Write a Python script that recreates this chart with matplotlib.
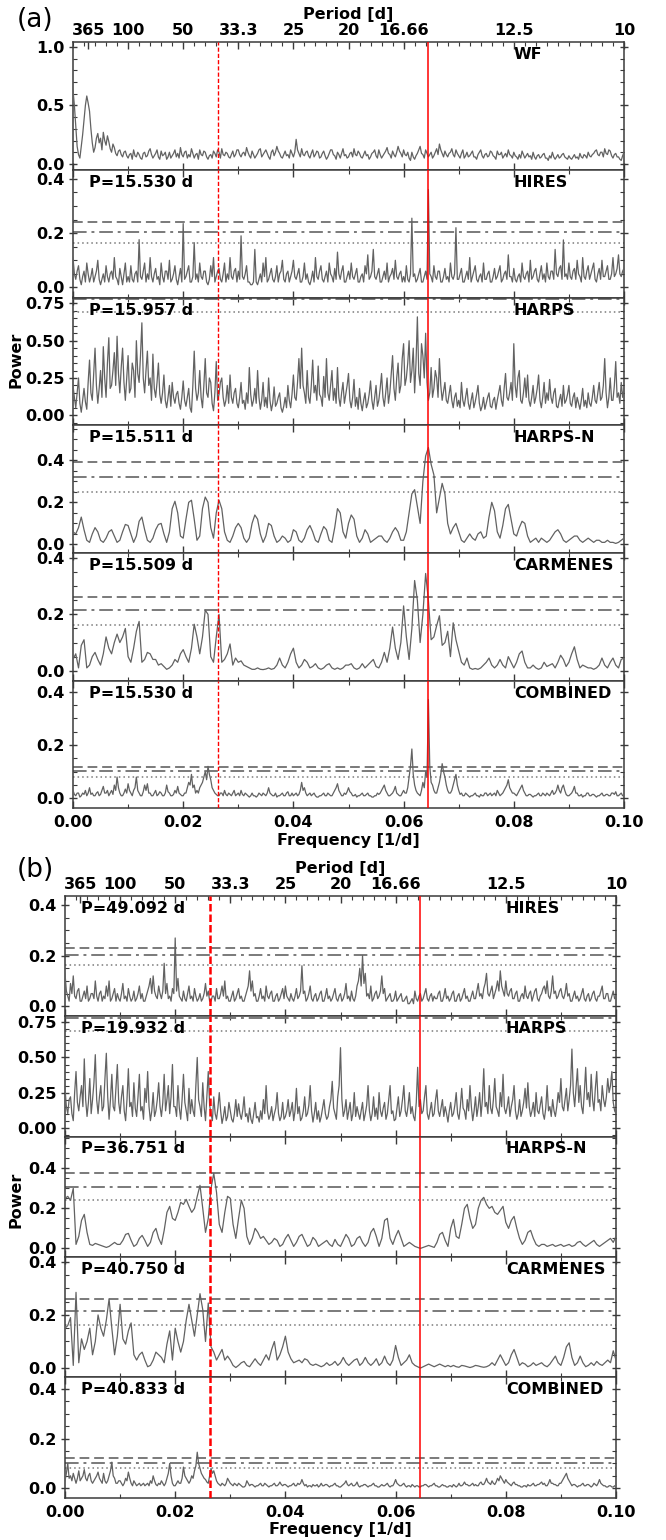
import numpy as np
import matplotlib
matplotlib.use("Agg")
import matplotlib.pyplot as plt
from matplotlib.ticker import MultipleLocator, AutoMinorLocator

plt.rcParams['font.family'] = ['DejaVu Sans']
plt.rcParams['font.weight'] = 'bold'

# ---------------------------------------------------------------- data
# Noisy periodograms: power every 0.00025 1/d from 0 to 0.1 1/d (401 values)
# Smooth periodograms: power every 0.0005 1/d from 0 to 0.1 1/d (201 values)

wf_a = [
    0.63, 0.50, 0.32, 0.15, 0.08, 0.05, 0.15, 0.25, 0.38, 0.50, 0.58, 0.52, 0.45, 0.30, 0.18, 0.10, 0.14, 0.22, 0.26, 0.18,
    0.22, 0.12, 0.27, 0.20, 0.16, 0.24, 0.19, 0.13, 0.10, 0.17, 0.14, 0.09, 0.07, 0.11, 0.12, 0.08, 0.06, 0.10, 0.11, 0.07,
    0.05, 0.08, 0.09, 0.04, 0.12, 0.07, 0.06, 0.10, 0.08, 0.05, 0.04, 0.09, 0.10, 0.06, 0.07, 0.11, 0.13, 0.08, 0.05, 0.07,
    0.09, 0.12, 0.06, 0.04, 0.11, 0.07, 0.08, 0.10, 0.04, 0.06, 0.10, 0.05, 0.07, 0.09, 0.12, 0.06, 0.09, 0.05, 0.14, 0.08,
    0.06, 0.10, 0.11, 0.05, 0.08, 0.06, 0.13, 0.09, 0.05, 0.08, 0.09, 0.04, 0.12, 0.08, 0.07, 0.11, 0.10, 0.06, 0.04, 0.07,
    0.08, 0.05, 0.11, 0.09, 0.06, 0.12, 0.10, 0.05, 0.13, 0.08, 0.07, 0.10, 0.09, 0.06, 0.05, 0.08, 0.11, 0.06, 0.08, 0.12,
    0.12, 0.08, 0.06, 0.09, 0.10, 0.07, 0.14, 0.10, 0.07, 0.05, 0.11, 0.08, 0.05, 0.07, 0.09, 0.12, 0.13, 0.06, 0.08, 0.10,
    0.12, 0.09, 0.06, 0.04, 0.10, 0.12, 0.07, 0.10, 0.15, 0.11, 0.09, 0.06, 0.05, 0.08, 0.11, 0.07, 0.08, 0.05, 0.12, 0.09,
    0.06, 0.10, 0.21, 0.12, 0.09, 0.06, 0.13, 0.08, 0.07, 0.10, 0.11, 0.07, 0.05, 0.09, 0.12, 0.06, 0.08, 0.11, 0.10, 0.05,
    0.06, 0.09, 0.11, 0.07, 0.04, 0.06, 0.09, 0.12, 0.12, 0.08, 0.07, 0.04, 0.10, 0.08, 0.05, 0.09, 0.13, 0.07, 0.08, 0.05,
    0.06, 0.09, 0.10, 0.06, 0.13, 0.08, 0.07, 0.11, 0.09, 0.06, 0.05, 0.08, 0.11, 0.07, 0.08, 0.04, 0.06, 0.09, 0.10, 0.12,
    0.07, 0.05, 0.12, 0.08, 0.05, 0.07, 0.09, 0.11, 0.14, 0.09, 0.08, 0.05, 0.11, 0.08, 0.06, 0.10, 0.15, 0.11, 0.09, 0.06,
    0.12, 0.08, 0.07, 0.10, 0.05, 0.03, 0.10, 0.06, 0.04, 0.07, 0.09, 0.12, 0.15, 0.09, 0.08, 0.05, 0.12, 0.09, 0.06, 0.08,
    0.10, 0.05, 0.07, 0.10, 0.13, 0.08, 0.17, 0.12, 0.09, 0.06, 0.11, 0.08, 0.06, 0.09, 0.10, 0.13, 0.08, 0.06, 0.12, 0.09,
    0.07, 0.05, 0.09, 0.12, 0.05, 0.07, 0.10, 0.06, 0.07, 0.09, 0.11, 0.06, 0.06, 0.04, 0.08, 0.10, 0.12, 0.07, 0.05, 0.08,
    0.09, 0.06, 0.07, 0.11, 0.10, 0.07, 0.06, 0.04, 0.11, 0.08, 0.08, 0.10, 0.05, 0.07, 0.09, 0.06, 0.12, 0.08, 0.07, 0.05,
    0.10, 0.07, 0.06, 0.04, 0.08, 0.05, 0.11, 0.08, 0.05, 0.07, 0.09, 0.06, 0.07, 0.04, 0.10, 0.06, 0.04, 0.07, 0.08, 0.05,
    0.06, 0.08, 0.09, 0.05, 0.05, 0.03, 0.07, 0.05, 0.10, 0.06, 0.04, 0.06, 0.08, 0.05, 0.06, 0.08, 0.09, 0.06, 0.05, 0.04,
    0.07, 0.05, 0.04, 0.06, 0.08, 0.05, 0.06, 0.04, 0.09, 0.06, 0.05, 0.08, 0.07, 0.05, 0.10, 0.07, 0.06, 0.08, 0.09, 0.11,
    0.12, 0.08, 0.07, 0.10, 0.10, 0.06, 0.13, 0.09, 0.08, 0.12, 0.11, 0.07, 0.05, 0.08, 0.09, 0.06, 0.06, 0.04, 0.03, 0.07,
    0.10,
]

hires_a = [
    0.11, 0.05, 0.03, 0.06, 0.08, 0.03, 0.01, 0.04, 0.06, 0.02, 0.09, 0.05, 0.02, 0.04, 0.07, 0.02, 0.04, 0.06, 0.10, 0.03,
    0.01, 0.03, 0.05, 0.02, 0.08, 0.04, 0.02, 0.05, 0.06, 0.03, 0.11, 0.04, 0.03, 0.01, 0.07, 0.04, 0.01, 0.05, 0.09, 0.02,
    0.04, 0.02, 0.08, 0.03, 0.02, 0.05, 0.06, 0.02, 0.176, 0.04, 0.03, 0.06, 0.09, 0.02, 0.05, 0.03, 0.11, 0.04, 0.02, 0.05,
    0.07, 0.03, 0.04, 0.01, 0.09, 0.04, 0.02, 0.06, 0.06, 0.03, 0.10, 0.02, 0.03, 0.05, 0.08, 0.03, 0.01, 0.04, 0.07, 0.02,
    0.235, 0.03, 0.04, 0.06, 0.08, 0.02, 0.02, 0.04, 0.165, 0.03, 0.05, 0.02, 0.09, 0.04, 0.03, 0.06, 0.06, 0.02, 0.01, 0.03,
    0.08, 0.04, 0.11, 0.02, 0.04, 0.06, 0.07, 0.03, 0.02, 0.05, 0.09, 0.02, 0.05, 0.03, 0.11, 0.04, 0.03, 0.06, 0.07, 0.02,
    0.06, 0.03, 0.19, 0.04, 0.03, 0.05, 0.08, 0.02, 0.02, 0.01, 0.01, 0.02, 0.14, 0.02, 0.01, 0.03, 0.05, 0.02, 0.09, 0.04,
    0.11, 0.02, 0.03, 0.05, 0.07, 0.03, 0.02, 0.04, 0.08, 0.02, 0.05, 0.06, 0.10, 0.03, 0.02, 0.05, 0.06, 0.02, 0.04, 0.06,
    0.10, 0.04, 0.03, 0.05, 0.07, 0.02, 0.02, 0.04, 0.09, 0.03, 0.05, 0.02, 0.01, 0.03, 0.06, 0.02, 0.11, 0.04, 0.03, 0.06,
    0.08, 0.03, 0.02, 0.04, 0.06, 0.02, 0.09, 0.05, 0.04, 0.02, 0.07, 0.03, 0.13, 0.05, 0.03, 0.06, 0.08, 0.02, 0.02, 0.04,
    0.06, 0.03, 0.09, 0.04, 0.03, 0.05, 0.07, 0.02, 0.02, 0.04, 0.05, 0.02, 0.08, 0.05, 0.12, 0.03, 0.04, 0.06, 0.14, 0.04,
    0.03, 0.05, 0.07, 0.02, 0.02, 0.04, 0.06, 0.03, 0.09, 0.02, 0.04, 0.05, 0.07, 0.03, 0.10, 0.04, 0.03, 0.05, 0.06, 0.02,
    0.04, 0.02, 0.08, 0.03, 0.02, 0.05, 0.255, 0.04, 0.05, 0.02, 0.03, 0.05, 0.07, 0.02, 0.02, 0.04, 0.06, 0.03, 0.36, 0.05,
    0.04, 0.02, 0.08, 0.04, 0.03, 0.06, 0.06, 0.02, 0.02, 0.04, 0.07, 0.03, 0.04, 0.02, 0.09, 0.04, 0.03, 0.05, 0.22, 0.03,
    0.03, 0.05, 0.07, 0.02, 0.02, 0.04, 0.06, 0.03, 0.11, 0.02, 0.04, 0.06, 0.08, 0.03, 0.02, 0.04, 0.05, 0.02, 0.09, 0.03,
    0.03, 0.05, 0.06, 0.02, 0.02, 0.04, 0.07, 0.03, 0.04, 0.06, 0.08, 0.02, 0.03, 0.05, 0.06, 0.03, 0.12, 0.04, 0.04, 0.02,
    0.07, 0.03, 0.02, 0.04, 0.05, 0.02, 0.09, 0.04, 0.03, 0.05, 0.06, 0.02, 0.10, 0.03, 0.04, 0.06, 0.07, 0.03, 0.02, 0.05,
    0.08, 0.03, 0.05, 0.02, 0.09, 0.04, 0.03, 0.06, 0.06, 0.03, 0.14, 0.05, 0.04, 0.07, 0.08, 0.03, 0.175, 0.04, 0.05, 0.03,
    0.09, 0.04, 0.03, 0.06, 0.07, 0.03, 0.10, 0.05, 0.04, 0.02, 0.11, 0.04, 0.03, 0.06, 0.08, 0.03, 0.05, 0.07, 0.09, 0.03,
    0.02, 0.05, 0.07, 0.03, 0.10, 0.04, 0.04, 0.06, 0.08, 0.03, 0.03, 0.05, 0.11, 0.04, 0.05, 0.07, 0.12, 0.05, 0.04, 0.06,
    0.07,
]

harps_a = [
    0.20, 0.12, 0.05, 0.15, 0.25, 0.08, 0.02, 0.10, 0.18, 0.09, 0.04, 0.22, 0.37, 0.15, 0.10, 0.28, 0.45, 0.20, 0.08, 0.18,
    0.30, 0.12, 0.46, 0.25, 0.12, 0.35, 0.52, 0.18, 0.20, 0.30, 0.42, 0.20, 0.53, 0.28, 0.15, 0.32, 0.45, 0.22, 0.10, 0.25,
    0.40, 0.15, 0.18, 0.35, 0.30, 0.12, 0.50, 0.28, 0.22, 0.40, 0.62, 0.25, 0.15, 0.30, 0.43, 0.20, 0.25, 0.10, 0.41, 0.18,
    0.12, 0.22, 0.35, 0.14, 0.08, 0.15, 0.27, 0.10, 0.05, 0.12, 0.20, 0.06, 0.22, 0.12, 0.08, 0.14, 0.16, 0.08, 0.04, 0.12,
    0.23, 0.10, 0.06, 0.12, 0.18, 0.05, 0.02, 0.20, 0.43, 0.18, 0.10, 0.15, 0.30, 0.12, 0.05, 0.20, 0.38, 0.15, 0.12, 0.25,
    0.22, 0.08, 0.03, 0.15, 0.36, 0.10, 0.14, 0.22, 0.25, 0.12, 0.06, 0.10, 0.20, 0.08, 0.27, 0.12, 0.08, 0.15, 0.18, 0.08,
    0.05, 0.12, 0.22, 0.08, 0.10, 0.04, 0.15, 0.08, 0.32, 0.14, 0.06, 0.10, 0.18, 0.08, 0.30, 0.12, 0.04, 0.10, 0.22, 0.06,
    0.12, 0.05, 0.25, 0.10, 0.03, 0.08, 0.19, 0.06, 0.08, 0.12, 0.15, 0.05, 0.02, 0.06, 0.12, 0.05, 0.20, 0.10, 0.05, 0.14,
    0.27, 0.12, 0.10, 0.22, 0.38, 0.18, 0.45, 0.20, 0.15, 0.08, 0.30, 0.12, 0.08, 0.20, 0.37, 0.15, 0.20, 0.10, 0.33, 0.14,
    0.12, 0.06, 0.26, 0.12, 0.38, 0.15, 0.10, 0.20, 0.30, 0.10, 0.18, 0.08, 0.32, 0.12, 0.06, 0.15, 0.22, 0.08, 0.14, 0.20,
    0.28, 0.10, 0.05, 0.12, 0.24, 0.06, 0.12, 0.04, 0.18, 0.08, 0.03, 0.10, 0.15, 0.05, 0.08, 0.14, 0.23, 0.10, 0.04, 0.12,
    0.20, 0.06, 0.10, 0.18, 0.28, 0.12, 0.06, 0.15, 0.25, 0.08, 0.15, 0.28, 0.40, 0.18, 0.10, 0.25, 0.35, 0.15, 0.20, 0.38,
    0.48, 0.20, 0.25, 0.35, 0.50, 0.22, 0.30, 0.45, 0.15, 0.35, 0.66, 0.28, 0.20, 0.48, 0.40, 0.25, 0.55, 0.22, 0.10, 0.15,
    0.32, 0.12, 0.18, 0.30, 0.25, 0.12, 0.38, 0.20, 0.10, 0.16, 0.22, 0.10, 0.08, 0.14, 0.20, 0.10, 0.05, 0.12, 0.15, 0.06,
    0.10, 0.05, 0.22, 0.10, 0.06, 0.12, 0.18, 0.08, 0.04, 0.10, 0.15, 0.05, 0.09, 0.14, 0.20, 0.08, 0.03, 0.06, 0.12, 0.04,
    0.08, 0.12, 0.15, 0.06, 0.05, 0.10, 0.12, 0.04, 0.10, 0.15, 0.20, 0.10, 0.06, 0.18, 0.28, 0.12, 0.10, 0.15, 0.22, 0.10,
    0.48, 0.20, 0.12, 0.25, 0.30, 0.10, 0.08, 0.15, 0.25, 0.12, 0.27, 0.10, 0.06, 0.12, 0.20, 0.08, 0.12, 0.18, 0.27, 0.10,
    0.05, 0.12, 0.22, 0.08, 0.15, 0.10, 0.24, 0.12, 0.08, 0.15, 0.18, 0.06, 0.05, 0.10, 0.14, 0.06, 0.20, 0.08, 0.10, 0.14,
    0.20, 0.08, 0.06, 0.12, 0.15, 0.05, 0.12, 0.08, 0.04, 0.10, 0.18, 0.06, 0.10, 0.05, 0.15, 0.08, 0.06, 0.12, 0.20, 0.10,
    0.08, 0.15, 0.22, 0.10, 0.12, 0.20, 0.38, 0.15, 0.05, 0.12, 0.25, 0.10, 0.10, 0.20, 0.36, 0.12, 0.15, 0.08, 0.22, 0.12,
    0.18,
]

harpsn_a = [
    0.06, 0.05, 0.08, 0.13, 0.07, 0.02, 0.01, 0.05, 0.08, 0.06, 0.02, 0.01, 0.03, 0.06, 0.07, 0.04, 0.01, 0.02, 0.06, 0.095,
    0.09, 0.05, 0.01, 0.04, 0.11, 0.13, 0.07, 0.02, 0.01, 0.03, 0.07, 0.095, 0.10, 0.05, 0.01, 0.06, 0.17, 0.205, 0.15, 0.04,
    0.03, 0.12, 0.20, 0.21, 0.12, 0.02, 0.04, 0.17, 0.225, 0.20, 0.08, 0.03, 0.15, 0.21, 0.17, 0.06, 0.02, 0.01, 0.04, 0.08,
    0.10, 0.08, 0.03, 0.01, 0.03, 0.10, 0.14, 0.12, 0.05, 0.01, 0.04, 0.10, 0.09, 0.04, 0.01, 0.02, 0.04, 0.03, 0.01, 0.02,
    0.07, 0.06, 0.02, 0.01, 0.03, 0.07, 0.09, 0.06, 0.02, 0.01, 0.05, 0.085, 0.07, 0.02, 0.01, 0.08, 0.17, 0.15, 0.06, 0.03,
    0.10, 0.14, 0.12, 0.04, 0.01, 0.03, 0.07, 0.05, 0.01, 0.02, 0.03, 0.04, 0.04, 0.02, 0.01, 0.03, 0.06, 0.08, 0.06, 0.02,
    0.02, 0.06, 0.15, 0.24, 0.26, 0.18, 0.10, 0.30, 0.42, 0.46, 0.38, 0.33, 0.15, 0.22, 0.29, 0.24, 0.10, 0.05, 0.08, 0.10,
    0.06, 0.02, 0.01, 0.03, 0.05, 0.03, 0.02, 0.05, 0.06, 0.03, 0.04, 0.13, 0.20, 0.16, 0.06, 0.03, 0.09, 0.17, 0.19, 0.12,
    0.05, 0.04, 0.08, 0.11, 0.10, 0.04, 0.01, 0.02, 0.03, 0.01, 0.03, 0.02, 0.01, 0.02, 0.04, 0.06, 0.07, 0.05, 0.02, 0.01,
    0.02, 0.03, 0.04, 0.04, 0.02, 0.01, 0.02, 0.03, 0.02, 0.01, 0.02, 0.02, 0.01, 0.01, 0.02, 0.01, 0.01, 0.005, 0.01, 0.02,
    0.03,
]

carmenes_a = [
    0.04, 0.06, 0.01, 0.09, 0.11, 0.01, 0.02, 0.05, 0.065, 0.04, 0.02, 0.06, 0.12, 0.08, 0.06, 0.10, 0.13, 0.10, 0.12, 0.15,
    0.05, 0.03, 0.08, 0.14, 0.175, 0.03, 0.04, 0.065, 0.06, 0.04, 0.04, 0.02, 0.025, 0.015, 0.005, 0.01, 0.02, 0.04, 0.03, 0.06,
    0.075, 0.05, 0.03, 0.08, 0.165, 0.12, 0.06, 0.12, 0.215, 0.20, 0.05, 0.03, 0.12, 0.20, 0.03, 0.04, 0.06, 0.095, 0.02, 0.045,
    0.03, 0.035, 0.02, 0.015, 0.01, 0.005, 0.005, 0.01, 0.005, 0.004, 0.006, 0.01, 0.005, 0.008, 0.02, 0.045, 0.02, 0.01, 0.03, 0.06,
    0.08, 0.03, 0.01, 0.02, 0.04, 0.03, 0.01, 0.015, 0.025, 0.01, 0.005, 0.01, 0.02, 0.025, 0.01, 0.005, 0.01, 0.005, 0.01, 0.02,
    0.02, 0.025, 0.01, 0.005, 0.01, 0.025, 0.01, 0.02, 0.03, 0.04, 0.015, 0.01, 0.03, 0.065, 0.03, 0.08, 0.155, 0.08, 0.04, 0.10,
    0.23, 0.12, 0.04, 0.15, 0.32, 0.25, 0.10, 0.20, 0.345, 0.25, 0.11, 0.12, 0.16, 0.195, 0.09, 0.10, 0.14, 0.05, 0.17, 0.11,
    0.07, 0.03, 0.02, 0.045, 0.01, 0.005, 0.008, 0.005, 0.01, 0.02, 0.03, 0.045, 0.02, 0.01, 0.02, 0.04, 0.02, 0.01, 0.05, 0.03,
    0.01, 0.03, 0.06, 0.07, 0.03, 0.01, 0.01, 0.02, 0.01, 0.005, 0.01, 0.03, 0.015, 0.02, 0.025, 0.01, 0.03, 0.055, 0.04, 0.015,
    0.03, 0.06, 0.085, 0.04, 0.01, 0.02, 0.015, 0.01, 0.01, 0.005, 0.01, 0.02, 0.045, 0.02, 0.01, 0.03, 0.045, 0.02, 0.01, 0.04,
    0.045,
]

combined_a = [
    0.03, 0.015, 0.01, 0.02, 0.02, 0.005, 0.01, 0.02, 0.015, 0.03, 0.01, 0.02, 0.04, 0.015, 0.02, 0.01, 0.01, 0.02, 0.025, 0.01,
    0.015, 0.03, 0.045, 0.02, 0.02, 0.03, 0.01, 0.02, 0.03, 0.015, 0.05, 0.03, 0.08, 0.04, 0.02, 0.01, 0.01, 0.02, 0.035, 0.02,
    0.055, 0.03, 0.02, 0.01, 0.03, 0.04, 0.08, 0.03, 0.02, 0.01, 0.01, 0.025, 0.05, 0.03, 0.055, 0.02, 0.02, 0.01, 0.01, 0.02,
    0.03, 0.01, 0.015, 0.025, 0.02, 0.01, 0.01, 0.02, 0.05, 0.025, 0.02, 0.01, 0.01, 0.015, 0.03, 0.02, 0.045, 0.02, 0.015, 0.01,
    0.01, 0.02, 0.02, 0.04, 0.06, 0.05, 0.09, 0.04, 0.05, 0.02, 0.03, 0.02, 0.04, 0.05, 0.06, 0.08, 0.10, 0.07, 0.12, 0.09,
    0.07, 0.04, 0.03, 0.02, 0.015, 0.01, 0.01, 0.02, 0.02, 0.01, 0.03, 0.015, 0.01, 0.02, 0.015, 0.01, 0.02, 0.03, 0.01, 0.015,
    0.02, 0.01, 0.03, 0.015, 0.01, 0.02, 0.015, 0.01, 0.005, 0.01, 0.02, 0.01, 0.01, 0.005, 0.01, 0.02, 0.015, 0.01, 0.02, 0.015,
    0.01, 0.02, 0.04, 0.02, 0.015, 0.01, 0.01, 0.02, 0.005, 0.01, 0.01, 0.015, 0.02, 0.01, 0.01, 0.02, 0.025, 0.01, 0.01, 0.02,
    0.01, 0.015, 0.02, 0.01, 0.015, 0.03, 0.06, 0.03, 0.04, 0.02, 0.01, 0.015, 0.02, 0.01, 0.015, 0.02, 0.01, 0.005, 0.005, 0.01,
    0.01, 0.015, 0.02, 0.01, 0.01, 0.02, 0.015, 0.01, 0.01, 0.02, 0.03, 0.04, 0.055, 0.03, 0.02, 0.01, 0.01, 0.02, 0.015, 0.025,
    0.04, 0.025, 0.02, 0.01, 0.01, 0.015, 0.005, 0.01, 0.01, 0.015, 0.02, 0.01, 0.01, 0.015, 0.02, 0.01, 0.01, 0.005, 0.005, 0.01,
    0.01, 0.02, 0.015, 0.02, 0.03, 0.04, 0.05, 0.03, 0.02, 0.01, 0.01, 0.015, 0.02, 0.03, 0.045, 0.02, 0.015, 0.01, 0.01, 0.02,
    0.03, 0.02, 0.02, 0.04, 0.08, 0.12, 0.185, 0.09, 0.05, 0.03, 0.02, 0.015, 0.01, 0.03, 0.06, 0.04, 0.10, 0.08, 0.37, 0.12,
    0.06, 0.05, 0.03, 0.02, 0.02, 0.04, 0.06, 0.09, 0.13, 0.10, 0.08, 0.05, 0.03, 0.02, 0.02, 0.03, 0.05, 0.07, 0.09, 0.05,
    0.03, 0.015, 0.02, 0.01, 0.01, 0.02, 0.015, 0.01, 0.005, 0.01, 0.01, 0.015, 0.02, 0.01, 0.01, 0.005, 0.015, 0.01, 0.01, 0.02,
    0.02, 0.01, 0.015, 0.02, 0.01, 0.015, 0.02, 0.01, 0.03, 0.02, 0.01, 0.015, 0.02, 0.03, 0.04, 0.05, 0.07, 0.04, 0.03, 0.02,
    0.02, 0.015, 0.01, 0.02, 0.03, 0.04, 0.05, 0.03, 0.02, 0.01, 0.01, 0.015, 0.015, 0.01, 0.005, 0.01, 0.01, 0.015, 0.02, 0.01,
    0.01, 0.02, 0.015, 0.01, 0.02, 0.015, 0.01, 0.02, 0.03, 0.015, 0.02, 0.03, 0.05, 0.03, 0.02, 0.04, 0.05, 0.03, 0.015, 0.01,
    0.01, 0.015, 0.02, 0.03, 0.045, 0.02, 0.02, 0.01, 0.01, 0.015, 0.005, 0.01, 0.01, 0.02, 0.02, 0.01, 0.01, 0.015, 0.015, 0.01,
    0.005, 0.01, 0.01, 0.015, 0.02, 0.01, 0.01, 0.015, 0.015, 0.01, 0.01, 0.02, 0.02, 0.015, 0.025, 0.01, 0.01, 0.015, 0.02, 0.01,
    0.01,
]

hires_b = [
    0.13, 0.06, 0.04, 0.02, 0.09, 0.05, 0.12, 0.04, 0.03, 0.06, 0.07, 0.02, 0.02, 0.04, 0.06, 0.03, 0.08, 0.02, 0.03, 0.05,
    0.05, 0.03, 0.10, 0.04, 0.02, 0.05, 0.06, 0.02, 0.04, 0.03, 0.08, 0.04, 0.10, 0.02, 0.03, 0.05, 0.07, 0.02, 0.05, 0.03,
    0.02, 0.05, 0.09, 0.03, 0.04, 0.02, 0.07, 0.04, 0.02, 0.03, 0.06, 0.02, 0.03, 0.05, 0.08, 0.03, 0.05, 0.02, 0.02, 0.04,
    0.06, 0.08, 0.11, 0.05, 0.12, 0.06, 0.04, 0.03, 0.08, 0.05, 0.03, 0.06, 0.17, 0.05, 0.09, 0.03, 0.04, 0.02, 0.07, 0.05,
    0.27, 0.06, 0.11, 0.04, 0.03, 0.02, 0.06, 0.03, 0.02, 0.05, 0.08, 0.03, 0.04, 0.02, 0.07, 0.04, 0.02, 0.03, 0.05, 0.02,
    0.03, 0.05, 0.09, 0.04, 0.06, 0.02, 0.02, 0.04, 0.04, 0.02, 0.07, 0.03, 0.03, 0.05, 0.08, 0.04, 0.10, 0.03, 0.04, 0.02,
    0.02, 0.04, 0.06, 0.02, 0.03, 0.05, 0.07, 0.03, 0.04, 0.02, 0.02, 0.04, 0.06, 0.08, 0.14, 0.06, 0.10, 0.04, 0.05, 0.02,
    0.02, 0.04, 0.07, 0.03, 0.04, 0.02, 0.08, 0.04, 0.03, 0.05, 0.06, 0.02, 0.02, 0.04, 0.05, 0.02, 0.03, 0.05, 0.07, 0.03,
    0.08, 0.04, 0.03, 0.02, 0.05, 0.03, 0.02, 0.04, 0.07, 0.03, 0.04, 0.06, 0.16, 0.05, 0.06, 0.02, 0.03, 0.05, 0.08, 0.03,
    0.02, 0.04, 0.05, 0.02, 0.03, 0.05, 0.06, 0.02, 0.02, 0.04, 0.07, 0.03, 0.04, 0.02, 0.03, 0.05, 0.07, 0.03, 0.02, 0.04,
    0.05, 0.02, 0.03, 0.05, 0.09, 0.03, 0.04, 0.02, 0.06, 0.03, 0.02, 0.04, 0.08, 0.10, 0.15, 0.08, 0.20, 0.09, 0.13, 0.04,
    0.05, 0.03, 0.08, 0.02, 0.03, 0.05, 0.06, 0.03, 0.04, 0.06, 0.12, 0.05, 0.07, 0.02, 0.03, 0.04, 0.05, 0.02, 0.02, 0.03,
    0.06, 0.02, 0.03, 0.04, 0.05, 0.02, 0.02, 0.03, 0.04, 0.01, 0.01, 0.02, 0.03, 0.01, 0.06, 0.03, 0.02, 0.04, 0.05, 0.02,
    0.03, 0.05, 0.07, 0.03, 0.02, 0.04, 0.05, 0.02, 0.04, 0.03, 0.03, 0.05, 0.06, 0.02, 0.02, 0.04, 0.07, 0.03, 0.04, 0.02,
    0.03, 0.05, 0.06, 0.02, 0.02, 0.04, 0.05, 0.02, 0.03, 0.05, 0.07, 0.03, 0.04, 0.02, 0.02, 0.04, 0.06, 0.03, 0.03, 0.06,
    0.09, 0.04, 0.05, 0.03, 0.07, 0.09, 0.13, 0.05, 0.04, 0.06, 0.08, 0.03, 0.05, 0.07, 0.10, 0.06, 0.14, 0.08, 0.06, 0.04,
    0.10, 0.05, 0.04, 0.06, 0.07, 0.03, 0.03, 0.05, 0.06, 0.02, 0.02, 0.04, 0.05, 0.03, 0.08, 0.04, 0.03, 0.05, 0.06, 0.02,
    0.04, 0.06, 0.07, 0.03, 0.02, 0.04, 0.05, 0.07, 0.08, 0.05, 0.10, 0.04, 0.03, 0.06, 0.12, 0.05, 0.06, 0.03, 0.04, 0.06,
    0.07, 0.04, 0.03, 0.05, 0.09, 0.04, 0.05, 0.02, 0.02, 0.04, 0.06, 0.03, 0.04, 0.02, 0.03, 0.05, 0.07, 0.03, 0.02, 0.04,
    0.05, 0.02, 0.03, 0.05, 0.06, 0.03, 0.02, 0.04, 0.04, 0.06, 0.08, 0.03, 0.03, 0.05, 0.05, 0.02, 0.02, 0.04, 0.06, 0.03,
    0.03,
]

harps_b = [
    0.28, 0.15, 0.10, 0.20, 0.22, 0.10, 0.05, 0.25, 0.40, 0.18, 0.12, 0.22, 0.30, 0.15, 0.49, 0.20, 0.08, 0.18, 0.35, 0.10,
    0.20, 0.32, 0.52, 0.20, 0.10, 0.22, 0.30, 0.12, 0.15, 0.35, 0.53, 0.22, 0.06, 0.20, 0.38, 0.15, 0.12, 0.28, 0.45, 0.18,
    0.10, 0.22, 0.30, 0.12, 0.05, 0.20, 0.42, 0.15, 0.18, 0.08, 0.32, 0.14, 0.08, 0.22, 0.38, 0.12, 0.15, 0.06, 0.28, 0.18,
    0.40, 0.15, 0.05, 0.12, 0.25, 0.08, 0.12, 0.20, 0.32, 0.15, 0.08, 0.18, 0.38, 0.12, 0.20, 0.30, 0.10, 0.22, 0.45, 0.15,
    0.15, 0.08, 0.30, 0.14, 0.06, 0.20, 0.38, 0.18, 0.12, 0.05, 0.28, 0.10, 0.20, 0.12, 0.08, 0.30, 0.50, 0.20, 0.15, 0.08,
    0.32, 0.15, 0.05, 0.22, 0.40, 0.16, 0.10, 0.05, 0.22, 0.10, 0.06, 0.14, 0.25, 0.12, 0.03, 0.08, 0.15, 0.05, 0.08, 0.18,
    0.12, 0.06, 0.04, 0.10, 0.20, 0.08, 0.17, 0.10, 0.06, 0.12, 0.22, 0.08, 0.10, 0.04, 0.14, 0.06, 0.03, 0.10, 0.18, 0.07,
    0.08, 0.04, 0.12, 0.06, 0.20, 0.10, 0.30, 0.12, 0.06, 0.09, 0.15, 0.05, 0.10, 0.14, 0.25, 0.10, 0.05, 0.08, 0.18, 0.06,
    0.08, 0.12, 0.20, 0.08, 0.12, 0.18, 0.05, 0.12, 0.28, 0.10, 0.15, 0.05, 0.07, 0.12, 0.22, 0.08, 0.10, 0.16, 0.30, 0.12,
    0.04, 0.10, 0.18, 0.06, 0.12, 0.04, 0.08, 0.14, 0.20, 0.10, 0.06, 0.08, 0.15, 0.20, 0.33, 0.14, 0.10, 0.06, 0.22, 0.30,
    0.57, 0.20, 0.08, 0.12, 0.20, 0.06, 0.12, 0.18, 0.05, 0.10, 0.25, 0.08, 0.15, 0.10, 0.06, 0.12, 0.18, 0.05, 0.10, 0.16,
    0.30, 0.12, 0.05, 0.10, 0.22, 0.08, 0.14, 0.06, 0.25, 0.12, 0.08, 0.14, 0.18, 0.06, 0.10, 0.20, 0.30, 0.10, 0.12, 0.05,
    0.06, 0.14, 0.22, 0.08, 0.12, 0.20, 0.30, 0.12, 0.08, 0.15, 0.25, 0.10, 0.15, 0.08, 0.05, 0.18, 0.43, 0.15, 0.20, 0.10,
    0.12, 0.22, 0.30, 0.10, 0.06, 0.12, 0.18, 0.08, 0.10, 0.20, 0.27, 0.12, 0.08, 0.14, 0.20, 0.08, 0.15, 0.10, 0.04, 0.12,
    0.18, 0.08, 0.10, 0.16, 0.25, 0.10, 0.06, 0.15, 0.28, 0.14, 0.12, 0.06, 0.20, 0.12, 0.30, 0.15, 0.05, 0.12, 0.22, 0.08,
    0.15, 0.25, 0.08, 0.20, 0.42, 0.15, 0.18, 0.10, 0.30, 0.14, 0.10, 0.20, 0.35, 0.15, 0.12, 0.08, 0.25, 0.15, 0.38, 0.14,
    0.10, 0.15, 0.22, 0.08, 0.15, 0.20, 0.30, 0.12, 0.06, 0.10, 0.20, 0.08, 0.12, 0.18, 0.28, 0.14, 0.32, 0.15, 0.08, 0.12,
    0.18, 0.08, 0.25, 0.12, 0.10, 0.16, 0.22, 0.10, 0.06, 0.14, 0.30, 0.12, 0.15, 0.08, 0.20, 0.12, 0.08, 0.15, 0.25, 0.18,
    0.35, 0.15, 0.12, 0.20, 0.28, 0.12, 0.20, 0.30, 0.56, 0.25, 0.15, 0.28, 0.42, 0.18, 0.30, 0.15, 0.10, 0.25, 0.43, 0.20,
    0.25, 0.15, 0.38, 0.20, 0.12, 0.28, 0.40, 0.18, 0.20, 0.12, 0.30, 0.20, 0.15, 0.22, 0.35, 0.25, 0.30, 0.40, 0.18, 0.12,
    0.10,
]

harpsn_b = [
    0.25, 0.26, 0.24, 0.30, 0.02, 0.06, 0.14, 0.17, 0.08, 0.02, 0.015, 0.025, 0.02, 0.015, 0.01, 0.005, 0.01, 0.02, 0.03, 0.02,
    0.02, 0.04, 0.07, 0.075, 0.04, 0.01, 0.02, 0.05, 0.065, 0.04, 0.01, 0.03, 0.08, 0.10, 0.05, 0.02, 0.09, 0.18, 0.21, 0.15,
    0.14, 0.18, 0.23, 0.22, 0.245, 0.21, 0.18, 0.20, 0.26, 0.315, 0.20, 0.08, 0.15, 0.30, 0.375, 0.28, 0.12, 0.08, 0.18, 0.26,
    0.25, 0.12, 0.05, 0.15, 0.24, 0.20, 0.06, 0.02, 0.05, 0.10, 0.08, 0.05, 0.06, 0.04, 0.02, 0.03, 0.05, 0.04, 0.01, 0.02,
    0.05, 0.07, 0.04, 0.01, 0.03, 0.06, 0.07, 0.04, 0.01, 0.02, 0.055, 0.04, 0.01, 0.02, 0.03, 0.04, 0.02, 0.01, 0.045, 0.02,
    0.01, 0.04, 0.07, 0.05, 0.01, 0.02, 0.05, 0.06, 0.03, 0.01, 0.03, 0.08, 0.10, 0.06, 0.01, 0.05, 0.14, 0.15, 0.05, 0.02,
    0.06, 0.09, 0.05, 0.01, 0.02, 0.03, 0.02, 0.01, 0.005, 0.0, 0.005, 0.01, 0.015, 0.01, 0.005, 0.03, 0.07, 0.08, 0.04, 0.01,
    0.10, 0.145, 0.06, 0.05, 0.12, 0.20, 0.22, 0.15, 0.10, 0.12, 0.20, 0.24, 0.255, 0.22, 0.20, 0.21, 0.18, 0.17, 0.19, 0.21,
    0.13, 0.10, 0.14, 0.16, 0.10, 0.05, 0.02, 0.04, 0.08, 0.09, 0.05, 0.02, 0.01, 0.02, 0.02, 0.01, 0.015, 0.02, 0.01, 0.015,
    0.02, 0.01, 0.015, 0.02, 0.01, 0.015, 0.03, 0.035, 0.02, 0.01, 0.02, 0.03, 0.04, 0.02, 0.01, 0.02, 0.03, 0.04, 0.05, 0.03,
    0.06,
]

carmenes_b = [
    0.15, 0.16, 0.19, 0.01, 0.285, 0.02, 0.11, 0.07, 0.10, 0.15, 0.05, 0.10, 0.20, 0.15, 0.12, 0.18, 0.26, 0.15, 0.05, 0.12,
    0.24, 0.11, 0.09, 0.14, 0.17, 0.05, 0.03, 0.05, 0.06, 0.03, 0.005, 0.01, 0.03, 0.06, 0.05, 0.04, 0.02, 0.09, 0.14, 0.03,
    0.15, 0.10, 0.06, 0.10, 0.18, 0.24, 0.18, 0.12, 0.20, 0.28, 0.22, 0.10, 0.245, 0.08, 0.06, 0.03, 0.05, 0.07, 0.03, 0.045,
    0.03, 0.01, 0.002, 0.01, 0.02, 0.025, 0.01, 0.005, 0.02, 0.035, 0.02, 0.01, 0.03, 0.05, 0.03, 0.07, 0.10, 0.03, 0.05, 0.08,
    0.12, 0.06, 0.035, 0.02, 0.025, 0.03, 0.02, 0.035, 0.03, 0.015, 0.01, 0.015, 0.01, 0.005, 0.01, 0.02, 0.01, 0.015, 0.025, 0.01,
    0.02, 0.04, 0.02, 0.01, 0.02, 0.03, 0.035, 0.01, 0.02, 0.04, 0.02, 0.01, 0.02, 0.035, 0.01, 0.02, 0.045, 0.02, 0.01, 0.03,
    0.085, 0.04, 0.01, 0.02, 0.03, 0.05, 0.02, 0.01, 0.005, 0.0, 0.005, 0.01, 0.015, 0.01, 0.005, 0.01, 0.015, 0.01, 0.005, 0.01,
    0.005, 0.01, 0.005, 0.003, 0.01, 0.008, 0.005, 0.002, 0.005, 0.01, 0.008, 0.005, 0.003, 0.005, 0.01, 0.02, 0.01, 0.03, 0.05, 0.03,
    0.01, 0.02, 0.05, 0.07, 0.04, 0.01, 0.02, 0.015, 0.005, 0.01, 0.02, 0.01, 0.015, 0.02, 0.01, 0.005, 0.015, 0.03, 0.045, 0.02,
    0.01, 0.04, 0.08, 0.095, 0.04, 0.01, 0.02, 0.045, 0.02, 0.005, 0.01, 0.02, 0.01, 0.025, 0.015, 0.01, 0.02, 0.03, 0.02, 0.065,
    0.03,
]

combined_b = [
    0.03, 0.06, 0.10, 0.04, 0.05, 0.03, 0.06, 0.04, 0.02, 0.04, 0.07, 0.03, 0.04, 0.05, 0.075, 0.04, 0.03, 0.05, 0.06, 0.03,
    0.02, 0.03, 0.04, 0.05, 0.065, 0.04, 0.03, 0.02, 0.06, 0.03, 0.02, 0.03, 0.05, 0.07, 0.105, 0.05, 0.04, 0.02, 0.02, 0.03,
    0.03, 0.02, 0.01, 0.02, 0.04, 0.03, 0.065, 0.04, 0.02, 0.01, 0.03, 0.02, 0.01, 0.015, 0.02, 0.01, 0.015, 0.02, 0.01, 0.015,
    0.02, 0.01, 0.03, 0.02, 0.05, 0.03, 0.015, 0.01, 0.02, 0.015, 0.03, 0.02, 0.01, 0.02, 0.04, 0.06, 0.10, 0.05, 0.02, 0.01,
    0.01, 0.02, 0.03, 0.02, 0.02, 0.04, 0.085, 0.05, 0.04, 0.03, 0.02, 0.03, 0.05, 0.04, 0.07, 0.09, 0.145, 0.10, 0.08, 0.06,
    0.05, 0.04, 0.035, 0.025, 0.02, 0.05, 0.08, 0.06, 0.07, 0.05, 0.03, 0.02, 0.015, 0.01, 0.02, 0.015, 0.01, 0.02, 0.04, 0.03,
    0.02, 0.015, 0.01, 0.02, 0.015, 0.01, 0.02, 0.015, 0.01, 0.005, 0.005, 0.01, 0.03, 0.02, 0.01, 0.015, 0.015, 0.01, 0.005, 0.01,
    0.01, 0.015, 0.02, 0.01, 0.01, 0.02, 0.015, 0.01, 0.005, 0.01, 0.01, 0.015, 0.02, 0.01, 0.01, 0.015, 0.025, 0.015, 0.01, 0.015,
    0.015, 0.01, 0.005, 0.01, 0.01, 0.015, 0.02, 0.01, 0.01, 0.02, 0.015, 0.02, 0.035, 0.02, 0.01, 0.015, 0.005, 0.01, 0.01, 0.005,
    0.015, 0.01, 0.01, 0.015, 0.005, 0.01, 0.02, 0.01, 0.01, 0.015, 0.015, 0.01, 0.005, 0.01, 0.01, 0.015, 0.02, 0.01, 0.01, 0.005,
    0.005, 0.01, 0.015, 0.02, 0.03, 0.015, 0.01, 0.015, 0.02, 0.01, 0.01, 0.015, 0.025, 0.01, 0.005, 0.01, 0.01, 0.015, 0.015, 0.01,
    0.005, 0.01, 0.01, 0.015, 0.02, 0.01, 0.01, 0.005, 0.005, 0.01, 0.015, 0.01, 0.01, 0.015, 0.02, 0.01, 0.005, 0.01, 0.01, 0.02,
    0.035, 0.02, 0.015, 0.01, 0.01, 0.015, 0.02, 0.01, 0.005, 0.01, 0.01, 0.005, 0.015, 0.01, 0.005, 0.01, 0.01, 0.005, 0.005, 0.01,
    0.01, 0.015, 0.015, 0.01, 0.005, 0.01, 0.01, 0.015, 0.02, 0.01, 0.01, 0.005, 0.005, 0.01, 0.015, 0.01, 0.01, 0.005, 0.005, 0.01,
    0.01, 0.005, 0.015, 0.01, 0.005, 0.01, 0.02, 0.01, 0.01, 0.015, 0.025, 0.015, 0.015, 0.01, 0.01, 0.015, 0.02, 0.01, 0.015, 0.01,
    0.01, 0.02, 0.025, 0.015, 0.015, 0.025, 0.04, 0.025, 0.02, 0.015, 0.03, 0.02, 0.015, 0.025, 0.04, 0.03, 0.05, 0.04, 0.03, 0.02,
    0.035, 0.025, 0.02, 0.015, 0.01, 0.02, 0.025, 0.015, 0.015, 0.01, 0.01, 0.005, 0.005, 0.01, 0.01, 0.005, 0.015, 0.01, 0.01, 0.015,
    0.02, 0.01, 0.01, 0.015, 0.015, 0.02, 0.025, 0.015, 0.02, 0.01, 0.01, 0.02, 0.035, 0.02, 0.02, 0.015, 0.015, 0.01, 0.01, 0.02,
    0.02, 0.03, 0.04, 0.05, 0.06, 0.04, 0.03, 0.02, 0.01, 0.015, 0.015, 0.01, 0.005, 0.01, 0.01, 0.015, 0.02, 0.01, 0.01, 0.015,
    0.015, 0.01, 0.005, 0.01, 0.02, 0.015, 0.01, 0.02, 0.035, 0.02, 0.015, 0.01, 0.01, 0.005, 0.005, 0.01, 0.01, 0.005, 0.005, 0.01,
    0.005,
]

names_a = ["WF", "HIRES", "HARPS", "HARPS-N", "CARMENES", "COMBINED"]
names_b = ["HIRES", "HARPS", "HARPS-N", "CARMENES", "COMBINED"]
best_period_a = [None, 15.530, 15.957, 15.511, 15.509, 15.530]
best_period_b = [49.092, 19.932, 36.751, 40.750, 40.833]

# false-alarm levels per panel, drawn dotted / dash-dot / dashed
fap_a = [None, (0.163, 0.204, 0.24), (0.69, 0.78, 0.80), (0.25, 0.32, 0.39),
         (0.163, 0.215, 0.26), (0.081, 0.102, 0.118)]
fap_b = [(0.162, 0.202, 0.231), (0.686, 0.78, 0.80), (0.24, 0.306, 0.375),
         (0.163, 0.215, 0.26), (0.08, 0.10, 0.122)]

period_ticks = [365, 100, 50, 33.3, 25, 20, 16.66, 12.5, 10]
period_labels = ["365", "100", "50", "33.3", "25", "20", "16.66", "12.5", "10"]

planet_period = 15.53       # solid red line
activity_freq = 0.0263      # dashed red line

# ---------------------------------------------------------------- layout
ylims_a = [(-0.05, 1.04), (-0.037, 0.433), (-0.067, 0.79), (-0.04, 0.566), (-0.035, 0.418), (-0.037, 0.441)]
yticks_a = [[0, 0.5, 1.0], [0, 0.2, 0.4], [0, 0.25, 0.5, 0.75], [0, 0.2, 0.4], [0, 0.2, 0.4], [0, 0.2, 0.4]]
ylims_b = [(-0.04, 0.436), (-0.064, 0.793), (-0.043, 0.558), (-0.035, 0.418), (-0.038, 0.446)]
yticks_b = [[0, 0.2, 0.4], [0, 0.25, 0.5, 0.75], [0, 0.2, 0.4], [0, 0.2, 0.4], [0, 0.2, 0.4]]

W, H = 666, 1540
fig = plt.figure(figsize=(W / 100, H / 100), dpi=100)

LINE_C = "#626262"
FAP_C = "#7a7a7a"
SPINE_C = "#3a3a3a"
FS = 11.5


def style_axes(ax, ylim, yticks, show_xlabels):
    ax.set_xlim(0, 0.1)
    ax.set_ylim(*ylim)
    ax.set_yticks(yticks)
    dec = 2 if 0.25 in yticks else 1
    ax.set_yticklabels([f"{t:.{dec}f}" for t in yticks])
    ax.yaxis.set_minor_locator(AutoMinorLocator())
    ax.xaxis.set_major_locator(MultipleLocator(0.02))
    ax.xaxis.set_minor_locator(MultipleLocator(0.01))
    ax.tick_params(axis="both", which="both", direction="in", top=True, right=True,
                   labelsize=FS, colors=SPINE_C, labelcolor="black")
    ax.tick_params(axis="y", which="major", direction="inout", length=6, width=1, pad=3)
    ax.tick_params(axis="y", which="minor", length=3, width=0.8)
    ax.tick_params(axis="x", which="major", length=5, width=1, pad=5)
    ax.tick_params(axis="x", which="minor", length=3, width=0.8)
    for sp in ax.spines.values():
        sp.set_color(SPINE_C)
        sp.set_linewidth(1.1)
    if show_xlabels:
        ax.set_xticklabels([f"{t:.2f}" for t in ax.get_xticks()])
        ax.set_xlabel("Frequency [1/d]", fontsize=FS, fontweight="bold", labelpad=2)
    else:
        ax.tick_params(axis="x", labelbottom=False)


def add_period_axis(ax):
    top = ax.twiny()
    top.set_xlim(ax.get_xlim())
    top.set_xticks([1.0 / p for p in period_ticks])
    top.set_xticklabels(period_labels)
    top.xaxis.set_minor_locator(MultipleLocator(0.002))
    top.tick_params(axis="x", which="major", direction="in", length=5, width=1,
                    labelsize=FS, pad=3, colors=SPINE_C, labelcolor="black")
    top.tick_params(axis="x", which="minor", direction="in", length=3, width=0.8, colors=SPINE_C)
    top.set_xlabel("Period [d]", fontsize=FS, fontweight="bold", labelpad=3)
    for sp in top.spines.values():
        sp.set_visible(False)
    ax.tick_params(axis="x", which="both", top=False)


def draw_group(left, bottom, height, series, names, periods, faps, ylims, yticks, dash_lw):
    n = len(series)
    axes = []
    for i in range(n):
        ax = fig.add_axes([left, bottom + (n - 1 - i) * height, 551 / W, height])
        p = np.asarray(series[i])
        f = np.linspace(0.0, 0.1, p.size)
        ax.plot(f, p, color=LINE_C, lw=0.9, zorder=3)
        if faps[i] is not None:
            lo, mid, hi = faps[i]
            ax.axhline(hi, color=FAP_C, ls=(0, (5, 2.5)), lw=1.4, zorder=2)
            ax.axhline(mid, color=FAP_C, ls=(0, (7, 2.5, 1.5, 2.5)), lw=1.4, zorder=2)
            ax.axhline(lo, color=FAP_C, ls=(0, (1, 2)), lw=1.1, zorder=2)
        ax.axvline(activity_freq, color="red", ls=(0, (3, 1.5)) if dash_lw < 1.5 else (0, (3, 1.2)),
                   lw=dash_lw, zorder=4)
        ax.axvline(1.0 / planet_period, color="red", lw=1.1, zorder=4)
        ax.text(0.80, 0.90, names[i], transform=ax.transAxes, fontsize=FS,
                fontweight="bold", ha="left", va="center")
        if periods[i] is not None:
            ax.text(0.029, 0.90, f"P={periods[i]:.3f} d", transform=ax.transAxes,
                    fontsize=FS, fontweight="bold", ha="left", va="center")
        style_axes(ax, ylims[i], yticks[i], i == n - 1)
        axes.append(ax)
    add_period_axis(axes[0])
    return axes


h_a = 127.7 / H
axes_a = draw_group(73 / W, 1 - 808.3 / H, h_a, [wf_a, hires_a, harps_a, harpsn_a, carmenes_a, combined_a],
                    names_a, best_period_a, fap_a, ylims_a, yticks_a, 1.0)

h_b = 120.34 / H
axes_b = draw_group(65 / W, 1 - 1497.7 / H, h_b, [hires_b, harps_b, harpsn_b, carmenes_b, combined_b],
                    names_b, best_period_b, fap_b, ylims_b, yticks_b, 1.8)

fig.text(17 / W, 1 - 20 / H, "(a)", fontsize=19, fontweight="normal", ha="left", va="center")
fig.text(17 / W, 1 - 870 / H, "(b)", fontsize=19, fontweight="normal", ha="left", va="center")
fig.text(16 / W, 1 - 360 / H, "Power", fontsize=FS, fontweight="bold", rotation=90, ha="center", va="center")
fig.text(16 / W, 1 - 1200 / H, "Power", fontsize=FS, fontweight="bold", rotation=90, ha="center", va="center")

fig.savefig("out.png", dpi=100)
